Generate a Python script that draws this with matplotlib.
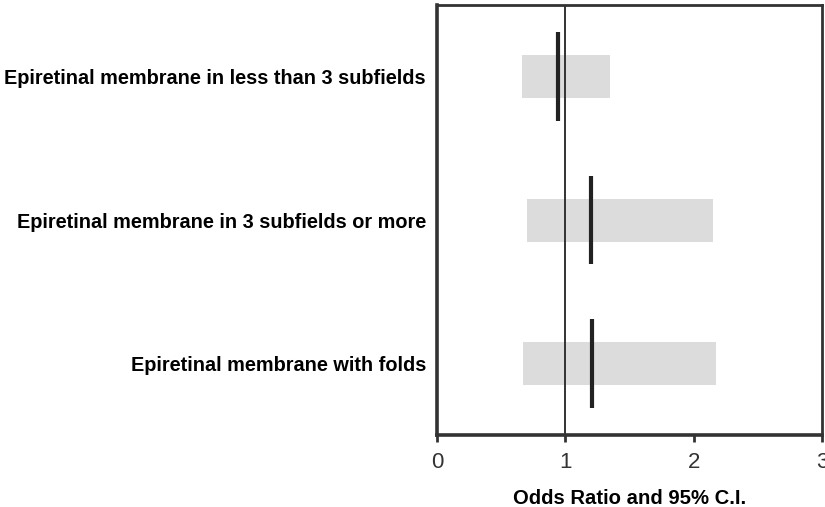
import matplotlib.pyplot as plt
import numpy as np

plt.rcParams['font.family'] = ['Liberation Sans', 'DejaVu Sans']

# data
labels = ['Epiretinal membrane in less than 3 subfields',
          'Epiretinal membrane in 3 subfields or more',
          'Epiretinal membrane with folds']
odds_ratio = [0.94, 1.20, 1.21]
ci_low = [0.66, 0.70, 0.67]
ci_high = [1.35, 2.15, 2.17]
x_ticks = [0, 1, 2, 3]

if __name__ == '__main__':
    fig = plt.figure(figsize=(8.25, 5.07), dpi=100)
    ax = fig.add_axes([0.5297, 0.142, 0.4667, 0.848])

    y = np.arange(len(labels))[::-1] + 1
    lo = np.array(ci_low)
    hi = np.array(ci_high)

    # CI bars
    ax.barh(y, hi - lo, left=lo, height=0.3, color='#dcdcdc', edgecolor='none', zorder=1)
    # reference line at 1
    ax.axvline(1, color='#333333', lw=1.4, zorder=2)
    # odds ratio markers
    ax.vlines(odds_ratio, y - 0.31, y + 0.31, color='#222222', lw=3, zorder=3)

    ax.set_xlim(0, 3)
    ax.set_ylim(0.5, 3.5)
    ax.set_xticks(x_ticks)
    ax.set_xticklabels([str(t) for t in x_ticks], fontsize=16, color='#222222')
    ax.tick_params(axis='x', direction='out', length=5, width=2, pad=7, colors='#333333')
    ax.set_yticks(y)
    ax.set_yticklabels(labels, fontsize=14.3, fontweight='bold')
    ax.tick_params(axis='y', length=0, pad=8)

    for s in ['left', 'bottom']:
        ax.spines[s].set_linewidth(2.6)
    for s in ['top', 'right']:
        ax.spines[s].set_linewidth(2)
    for s in ax.spines.values():
        s.set_color('#333333')

    ax.set_xlabel('Odds Ratio and 95% C.I.', fontsize=14.6, fontweight='bold', labelpad=12)

    fig.savefig('out.png', dpi=100)
